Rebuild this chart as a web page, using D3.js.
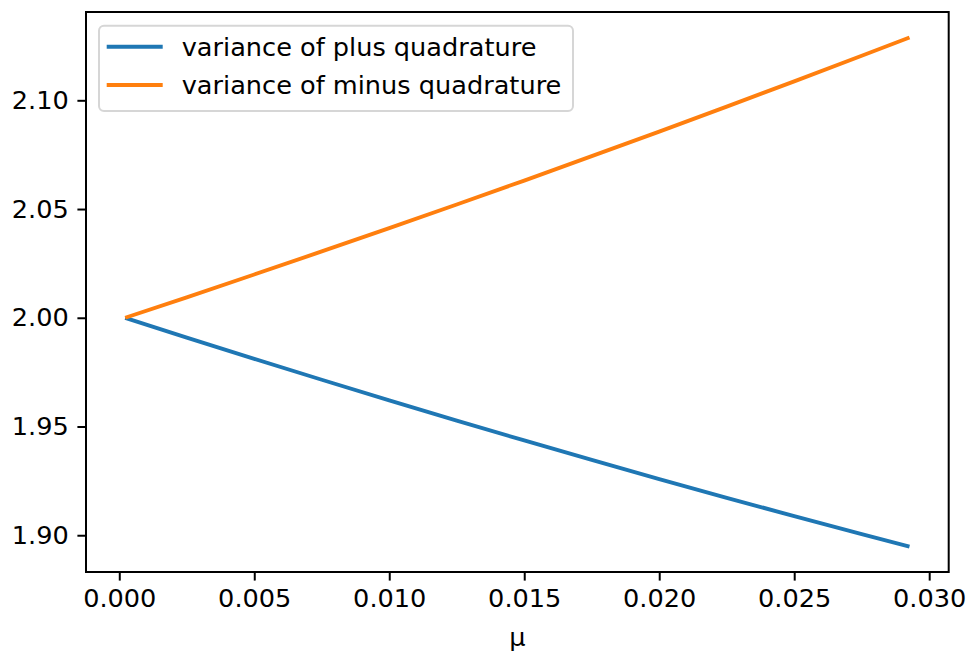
<!DOCTYPE html>
<html><head><meta charset="utf-8">
<script src="https://cdn.jsdelivr.net/npm/d3@7"></script>
<style>body{margin:0;background:#fff}svg{display:block;font-family:"DejaVu Sans",sans-serif}</style>
</head><body><svg id="c" width="970" height="654"></svg>
<script>
const mu = [0.00022,0.0025,0.005,0.0075,0.01,0.0125,0.015,0.0175,0.02,0.0225,0.025,0.0275,0.02927];
const varPlus  = [2.0,1.9909,1.9811,1.9715,1.9620,1.9527,1.9436,1.9346,1.9258,1.9172,1.9088,1.9005,1.8948];
const varMinus = [2.0,2.0094,2.0199,2.0305,2.0412,2.0521,2.0631,2.0743,2.0856,2.0971,2.1087,2.1205,2.1289];
const seriesNames = ["variance of plus quadrature","variance of minus quadrature"];
const colors = ["#1f77b4","#ff7f0e"];
const xTicks = [0,0.005,0.01,0.015,0.02,0.025,0.03];
const yTicks = [1.90,1.95,2.00,2.05,2.10];

const L=86,R=948.7,T=12,B=572;
const svg=d3.select("#c");
const xe=d3.extent(mu), xm=(xe[1]-xe[0])*0.05;
const allY=varPlus.concat(varMinus), ye=d3.extent(allY), ym=(ye[1]-ye[0])*0.05;
const x=d3.scaleLinear().domain([xe[0]-xm,xe[1]+xm]).range([L,R]);
const y=d3.scaleLinear().domain([ye[0]-ym,ye[1]+ym]).range([B,T]);
const fs=25.6;

const xa=svg.append("g").attr("transform",`translate(0,${B})`)
 .call(d3.axisBottom(x).tickValues(xTicks).tickFormat(d3.format(".3f")).tickSize(8.6).tickPadding(8.6));
const ya=svg.append("g").attr("transform",`translate(${L},0)`)
 .call(d3.axisLeft(y).tickValues(yTicks).tickFormat(d3.format(".2f")).tickSize(8.6).tickPadding(8.6));
[xa,ya].forEach(a=>{a.select(".domain").remove();a.selectAll("line").attr("stroke","#000").attr("stroke-width",2);
 a.selectAll("text").attr("font-size",fs).attr("fill","#000").attr("font-family","DejaVu Sans");});

const line=d3.line().x((d,i)=>x(mu[i])).y(d=>y(d));
[varPlus,varMinus].forEach((s,k)=>{
 svg.append("path").datum(s).attr("d",line).attr("fill","none").attr("stroke",colors[k]).attr("stroke-width",3.9).attr("stroke-linecap","butt");
});

svg.append("rect").attr("x",L).attr("y",T).attr("width",R-L).attr("height",B-T).attr("fill","none").attr("stroke","#000").attr("stroke-width",2);

svg.append("text").attr("x",(L+R)/2).attr("y",646).attr("text-anchor","middle").attr("font-size",fs).text("μ");

// legend
const lg=svg.append("g");
lg.append("rect").attr("x",99).attr("y",25.7).attr("width",474).attr("height",85.3).attr("rx",5)
 .attr("fill","#fff").attr("fill-opacity",0.8).attr("stroke","#d6d6d6").attr("stroke-width",2);
seriesNames.forEach((n,k)=>{
 const yy=46.7+k*38.3;
 lg.append("line").attr("x1",106.7).attr("x2",162.7).attr("y1",yy).attr("y2",yy).attr("stroke",colors[k]).attr("stroke-width",3.9);
 lg.append("text").attr("x",181.7).attr("y",yy).attr("dy","0.35em").attr("font-size",fs).text(n);
});
</script></body></html>
